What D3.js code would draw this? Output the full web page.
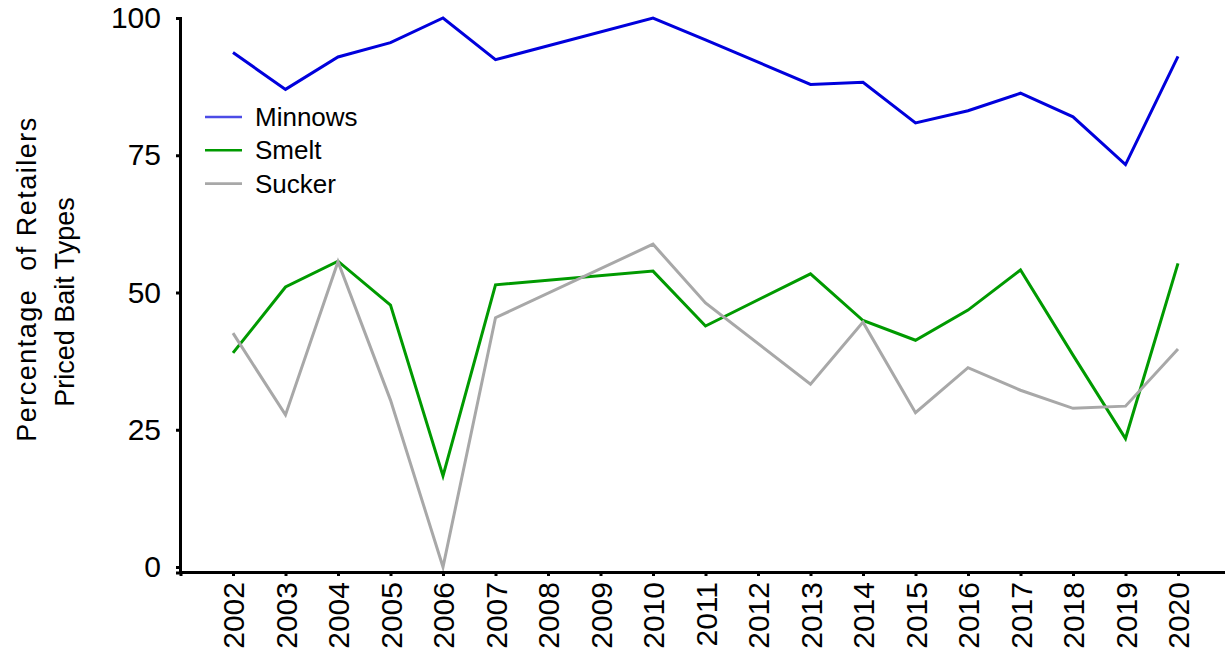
<!DOCTYPE html>
<html>
<head>
<meta charset="utf-8">
<script src="https://cdn.jsdelivr.net/npm/d3@7/dist/d3.min.js"></script>
<style>
  html, body { margin: 0; padding: 0; background: #fff; }
  svg { display: block; font-family: "Liberation Sans", Arial, sans-serif; }
</style>
</head>
<body>
<svg id="chart" width="1225" height="655"></svg>
<script>
// Survey years with data (2008, 2009 and 2012 were not surveyed)
const years = [2002, 2003, 2004, 2005, 2006, 2007, 2010, 2011, 2013, 2014, 2015, 2016, 2017, 2018, 2019, 2020];
const tickYears = d3.range(2002, 2021);
const yTicks = [0, 25, 50, 75, 100];

// Percentage of retailers that priced each bait type
const minnows = [93.7, 87.0, 92.9, 95.5, 100, 92.4, 100, 96.0, 87.9, 88.3, 80.9, 83.1, 86.3, 82.0, 73.3, 93.0];
const smelt   = [39.0, 51.0, 55.7, 47.7, 16.6, 51.4, 53.9, 43.9, 53.4, 44.9, 41.3, 46.8, 54.1, 38.6, 23.4, 55.3];
const sucker  = [42.6, 27.7, 55.6, 30.4, 0.0, 45.4, 58.8, 48.1, 33.3, 44.6, 28.1, 36.3, 32.2, 28.9, 29.3, 39.7];

const seriesNames = ["Minnows", "Smelt", "Sucker"];
const seriesValues = [minnows, smelt, sucker];
const seriesColors = ["#0000dc", "#009a00", "#a8a8a8"];

const svg = d3.select("#chart");

const x = d3.scaleLinear().domain([2001, 2021]).range([180.5, 1230.5]);
const y = d3.scaleLinear().domain([-1, 100]).range([572.5, 18]);

// Data lines
const line = d3.line()
  .x(d => x(d.year))
  .y(d => y(d.value));

seriesValues.forEach((vals, i) => {
  const pts = years.map((yr, j) => ({ year: yr, value: vals[j] }));
  svg.append("path")
    .datum(pts)
    .attr("fill", "none")
    .attr("stroke", seriesColors[i])
    .attr("stroke-width", 3)
    .attr("stroke-linejoin", "miter")
    .attr("d", line);
});

// Y axis
const yAxis = svg.append("g")
  .attr("transform", "translate(180,0)")
  .call(d3.axisLeft(y).tickValues(yTicks).tickSize(4).tickSizeOuter(4).tickPadding(15));
yAxis.select(".domain").attr("stroke-width", 3);
yAxis.selectAll(".tick line").attr("stroke-width", 3);
yAxis.selectAll(".tick text")
  .attr("font-size", 30)
  .attr("font-family", "Liberation Sans, Arial, sans-serif")
  .attr("fill", "#000");

// X axis
const xAxis = svg.append("g")
  .attr("transform", "translate(0,572)")
  .call(d3.axisBottom(x).tickValues(tickYears).tickFormat(d3.format("d")).tickSize(4).tickSizeOuter(4));
xAxis.select(".domain").attr("stroke-width", 3);
xAxis.selectAll(".tick line").attr("stroke-width", 3);
xAxis.selectAll(".tick text")
  .attr("font-size", 30)
  .attr("font-family", "Liberation Sans, Arial, sans-serif")
  .attr("fill", "#000")
  .attr("text-anchor", "end")
  .attr("transform", "rotate(-90)")
  .attr("x", -10)
  .attr("y", 0)
  .attr("dy", "0.36em");

// Y axis title
const title = svg.append("g")
  .attr("font-size", 27)
  .attr("fill", "#000")
  .attr("text-anchor", "middle");
title.append("text")
  .attr("transform", "translate(36,279) rotate(-90)")
  .attr("xml:space", "preserve")
  .style("white-space", "pre")
  .attr("letter-spacing", 1.5)
  .text("Percentage  of Retailers");
title.append("text")
  .attr("transform", "translate(74,302) rotate(-90)")
  .text("Priced Bait Types");

// Legend
const legend = svg.append("g").attr("transform", "translate(205,117)");
seriesNames.forEach((name, i) => {
  const g = legend.append("g").attr("transform", `translate(0,${i * 33.3})`);
  g.append("line")
    .attr("x1", 0).attr("x2", 37)
    .attr("y1", 0).attr("y2", 0)
    .attr("stroke", seriesColors[i])
    .attr("stroke-opacity", i === 0 ? 0.7 : 1)
    .attr("stroke-width", 2.6);
  g.append("text")
    .attr("x", 50)
    .attr("y", 9)
    .attr("font-size", 26)
    .attr("fill", "#000")
    .text(name);
});
</script>
</body>
</html>
